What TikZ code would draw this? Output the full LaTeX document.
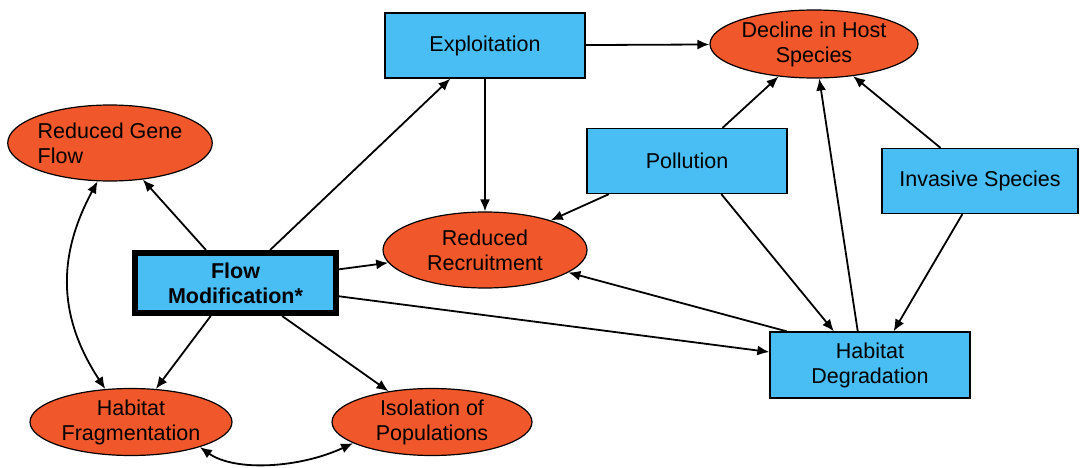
\documentclass[tikz,border=0pt]{standalone}
\usepackage{fontspec}
\setmainfont{Liberation Sans}
\usetikzlibrary{arrows.meta,shapes.geometric}
\definecolor{boxblue}{RGB}{72,190,245}
\definecolor{ovalorange}{RGB}{240,88,44}
\begin{document}
\begin{tikzpicture}[x=1pt,y=-1pt,
 every node/.style={font=\fontsize{21.5}{25}\selectfont, text=black},
 bx/.style={rectangle, draw=black, line width=1.3pt, fill=boxblue, minimum width=200pt, minimum height=65pt, inner sep=0pt, align=center},
 ov/.style={ellipse, draw=black, line width=1.2pt, fill=ovalorange, minimum width=204pt, minimum height=68pt, inner sep=0pt, align=center},
 arr/.style={line width=1.8pt, -{Latex[length=12pt,width=10pt]}},
 darr/.style={line width=1.8pt, {Latex[length=12pt,width=10pt]}-{Latex[length=12pt,width=10pt]}}]
\useasboundingbox (0,0) rectangle (1081,468);

\node[bx] (exp) at (485,45.5) {Exploitation};
\node[ov, minimum width=208pt] (dec) at (814,44) {Decline in Host\\Species};
\node[ov, minimum height=76pt, align=left] (gf) at (110,143) {Reduced Gene\\Flow};
\node[bx] (pol) at (687,161) {Pollution};
\node[bx, minimum width=196pt] (inv) at (980,181) {Invasive Species};
\node[ov, minimum height=76pt] (rr) at (485,250) {Reduced\\Recruitment};
\node[bx, line width=6pt, minimum width=201pt, minimum height=60pt, font=\fontsize{21.5}{25}\selectfont\bfseries] (fm) at (235.5,283) {Flow\\Modification*};
\node[bx, minimum height=66pt] (hd) at (870,365) {Habitat\\Degradation};
\node[ov, minimum width=202pt, minimum height=67pt] (frag) at (131,422) {Habitat\\Fragmentation};
\node[ov, minimum width=200pt, minimum height=67pt] (iso) at (432,422) {Isolation of\\Populations};

\draw[arr] (fm) -- (gf);
\draw[arr] (fm) -- (exp);
\draw[arr] (fm) -- (rr);
\draw[arr] (fm) -- (hd);
\draw[arr] (fm) -- (frag);
\draw[arr] (fm) -- (iso);
\draw[darr] (gf.252) .. controls (55,260) and (60,320) .. (frag.128);
\draw[darr] (frag.-20) .. controls (235,472) and (300,468) .. (iso.195);
\draw[arr] (exp) -- (dec);
\draw[arr] (exp) -- (rr);
\draw[arr] (pol.43) -- (dec);
\draw[arr] (pol.203) -- (rr);
\draw[arr] (pol.316) -- (hd.137);
\draw[arr] (hd.110) -- (dec);
\draw[arr] (hd.158) -- (rr);
\draw[arr] (inv.140) -- (dec);
\draw[arr] (inv.242) -- (hd.55);
\end{tikzpicture}
\end{document}
